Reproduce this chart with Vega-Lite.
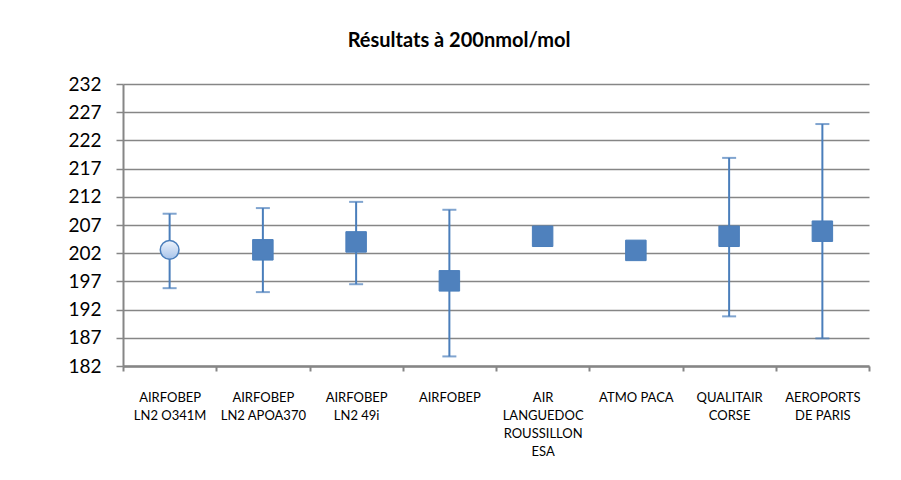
{
  "$schema": "https://vega.github.io/schema/vega-lite/v6.json",
  "width": 746,
  "height": 282,
  "autosize": {"type": "none"},
  "padding": {"left": 123, "top": 84, "right": 32, "bottom": 114},
  "background": "white",
  "title": {"text": "Résultats à 200nmol/mol", "font": "Lato", "fontSize": 20, "fontWeight": "bold", "color": "black", "anchor": "middle", "dx": -37, "offset": 24},
  "config": {"view": {"stroke": null}, "font": "Lato"},
  "data": {"values": [
    {"name": "AIRFOBEP\nLN2 O341M", "kind": "circle", "value": 202.6, "low": 195.8, "high": 209.0},
    {"name": "AIRFOBEP\nLN2 APOA370", "kind": "square", "value": 202.6, "low": 195.1, "high": 210.0},
    {"name": "AIRFOBEP\nLN2 49i", "kind": "square", "value": 204.0, "low": 196.5, "high": 211.1},
    {"name": "AIRFOBEP", "kind": "square", "value": 197.1, "low": 183.7, "high": 209.7},
    {"name": "AIR\nLANGUEDOC\nROUSSILLON\nESA", "kind": "square", "value": 205.0, "low": null, "high": null},
    {"name": "ATMO PACA", "kind": "square", "value": 202.5, "low": null, "high": null},
    {"name": "QUALITAIR\nCORSE", "kind": "square", "value": 205.0, "low": 190.8, "high": 218.9},
    {"name": "AEROPORTS\nDE PARIS", "kind": "square", "value": 205.9, "low": 186.9, "high": 224.9}
  ]},
  "encoding": {
    "x": {
      "field": "name", "type": "nominal",
      "sort": ["AIRFOBEP\nLN2 O341M", "AIRFOBEP\nLN2 APOA370", "AIRFOBEP\nLN2 49i", "AIRFOBEP", "AIR\nLANGUEDOC\nROUSSILLON\nESA", "ATMO PACA", "QUALITAIR\nCORSE", "AEROPORTS\nDE PARIS"],
      "scale": {"type": "band", "paddingInner": 0, "paddingOuter": 0},
      "axis": {
        "title": null, "labelAngle": 0, "labelExpr": "split(datum.label, '\\n')",
        "labelFont": "Lato", "labelFontSize": 13, "labelLineHeight": 18, "labelColor": "black",
        "labelBaseline": "top", "labelPadding": 20, "labelLimit": 300,
        "tickBand": "extent", "tickSize": 5, "tickColor": "#868686", "tickWidth": 2,
        "domainColor": "#868686", "domainWidth": 2.5, "grid": false
      }
    }
  },
  "layer": [
    {
      "transform": [{"filter": "datum.low != null"}],
      "mark": {"type": "rule", "color": "#4A7EBB", "strokeWidth": 2},
      "encoding": {
        "y": {
          "field": "low", "type": "quantitative",
          "scale": {"domain": [182, 232], "nice": false, "zero": false},
          "axis": {
            "title": null, "values": [182, 187, 192, 197, 202, 207, 212, 217, 222, 227, 232], "tickCount": 20, "format": "d",
            "grid": true, "gridColor": "#868686", "gridWidth": 1.5,
            "domainColor": "#868686", "domainWidth": 2,
            "tickColor": "#868686", "tickSize": 7, "tickWidth": 1.5,
            "labelFont": "Lato", "labelFontSize": 19, "labelColor": "black", "labelPadding": 15
          }
        },
        "y2": {"field": "high"}
      }
    },
    {
      "transform": [{"filter": "datum.low != null"}],
      "mark": {"type": "tick", "orient": "horizontal", "size": 14, "thickness": 2, "color": "#4A7EBB"},
      "encoding": {"y": {"field": "low", "type": "quantitative"}}
    },
    {
      "transform": [{"filter": "datum.high != null"}],
      "mark": {"type": "tick", "orient": "horizontal", "size": 14, "thickness": 2, "color": "#4A7EBB"},
      "encoding": {"y": {"field": "high", "type": "quantitative"}}
    },
    {
      "transform": [{"filter": "datum.kind == 'circle'"}],
      "mark": {
        "type": "point", "shape": "circle", "filled": true, "size": 350, "opacity": 1,
        "fill": {"gradient": "linear", "x1": 0, "y1": 0, "x2": 0, "y2": 1, "stops": [{"offset": 0, "color": "#EEF4FC"}, {"offset": 1, "color": "#A7C3EA"}]},
        "stroke": "#4A7EBB", "strokeWidth": 1.5
      },
      "encoding": {"y": {"field": "value", "type": "quantitative"}}
    },
    {
      "transform": [{"filter": "datum.kind == 'square'"}],
      "mark": {"type": "point", "shape": "square", "filled": true, "size": 420, "opacity": 1, "fill": "#4F81BD", "stroke": "#4A7EBB", "strokeWidth": 1},
      "encoding": {"y": {"field": "value", "type": "quantitative"}}
    }
  ]
}
